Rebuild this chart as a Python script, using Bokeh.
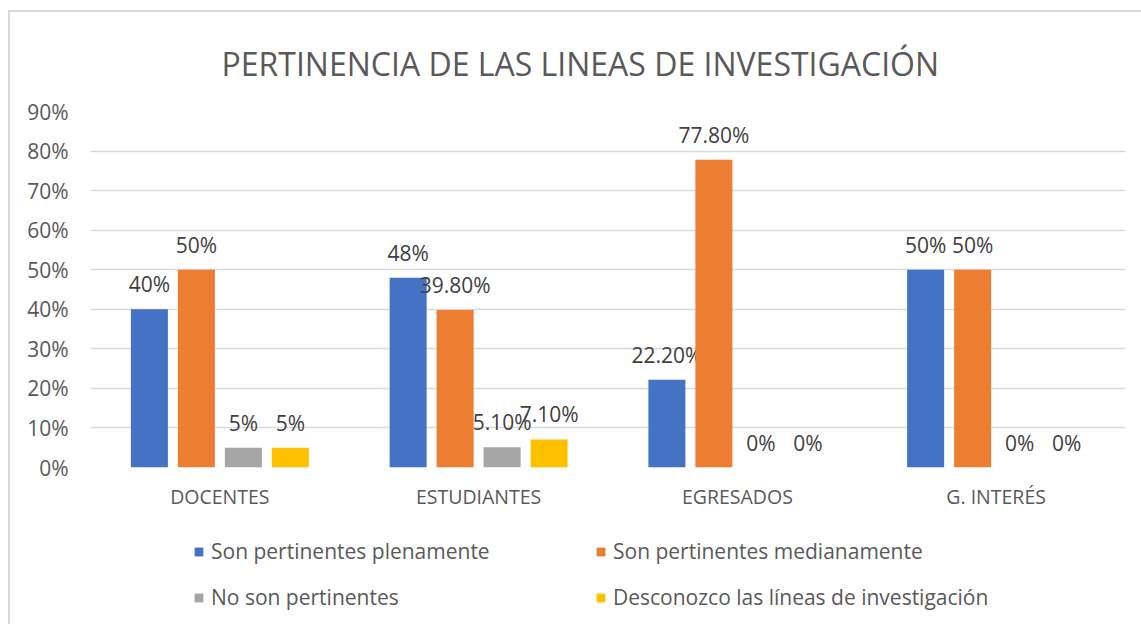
from bokeh.plotting import figure
from bokeh.layouts import column
from bokeh.models import (ColumnDataSource, FactorRange, Range1d, FixedTicker,
                          NumeralTickFormatter, Legend, LegendItem)
from bokeh.transform import dodge
from bokeh.core.properties import value
from bokeh.embed import file_html
from bokeh.resources import INLINE

categories = ["DOCENTES", "ESTUDIANTES", "EGRESADOS", "G. INTERÉS"]
series_names = ["Son pertinentes plenamente", "Son pertinentes medianamente",
                "No son pertinentes", "Desconozco las líneas de investigación"]
plenamente = [0.40, 0.48, 0.222, 0.50]
medianamente = [0.50, 0.398, 0.778, 0.50]
no_pertinentes = [0.05, 0.051, 0.0, 0.0]
desconozco = [0.05, 0.071, 0.0, 0.0]
labels_plenamente = ["40%", "48%", "22.20%", "50%"]
labels_medianamente = ["50%", "39.80%", "77.80%", "50%"]
labels_no = ["5%", "5.10%", "0%", "0%"]
labels_desconozco = ["5%", "7.10%", "0%", "0%"]
y_ticks = [0.0, 0.1, 0.2, 0.3, 0.4, 0.5, 0.6, 0.7, 0.8, 0.9]

colors = ["#4472C4", "#ED7D31", "#A5A5A5", "#FFC000"]
FONT = "Open Sans"

src = ColumnDataSource(dict(cat=categories,
                            s0=plenamente, s1=medianamente, s2=no_pertinentes, s3=desconozco,
                            l0=labels_plenamente, l1=labels_medianamente,
                            l2=labels_no, l3=labels_desconozco))

p = figure(x_range=FactorRange(*categories), y_range=Range1d(0, 0.9),
           width=1131, height=513, output_backend="svg", toolbar_location=None,
           min_border_left=80, min_border_right=16, min_border_top=99, min_border_bottom=58)

step = 0.1816
bw = 0.143
offsets = [-1.5 * step, -0.5 * step, 0.5 * step, 1.5 * step]
for i in range(4):
    p.vbar(x=dodge("cat", offsets[i], range=p.x_range), top="s%d" % i, width=bw,
           source=src, fill_color=colors[i], line_color=None)
    p.text(x=dodge("cat", offsets[i], range=p.x_range), y="s%d" % i, text="l%d" % i,
           source=src, y_offset=-25, text_align="center", text_baseline="alphabetic",
           text_font=value(FONT), text_font_size="21px", text_color="#404040")

p.title.text = "PERTINENCIA DE LAS LINEAS DE INVESTIGACIÓN"
p.title.align = "left"
p.title.offset = 131
p.title.text_font = FONT
p.title.text_font_size = "32px"
p.title.text_font_style = "normal"
p.title.text_color = "#595959"
p.title.standoff = 53

p.outline_line_color = None
p.xgrid.grid_line_color = None
p.ygrid.grid_line_color = "#d9d9d9"
p.ygrid.grid_line_width = 1.5

p.yaxis.ticker = FixedTicker(ticks=y_ticks)
p.yaxis.formatter = NumeralTickFormatter(format="0%")
for ax in (p.xaxis, p.yaxis):
    ax.axis_line_color = None
    ax.major_tick_line_color = None
    ax.minor_tick_line_color = None
    ax.major_tick_out = 0
    ax.major_tick_in = 0
    ax.major_label_text_font = FONT
    ax.major_label_text_color = "#595959"
p.yaxis.major_label_text_font_size = "21px"
p.xaxis.major_label_text_font_size = "19.5px"
p.yaxis.major_label_standoff = 22
p.xaxis.major_label_standoff = 15

# legend strip below the chart; its bars reuse the data but lie below its view
q = figure(width=1131, height=99, output_backend="svg", toolbar_location=None,
           x_range=FactorRange(*categories), y_range=Range1d(1, 2),
           x_axis_location=None, y_axis_location=None, min_border=0)
q.grid.visible = False
q.outline_line_color = None
items = []
for i in range(4):
    r = q.vbar(x="cat", top="s%d" % i, width=bw, source=src,
               fill_color=colors[i], line_color=None)
    items.append(LegendItem(label=series_names[i], renderers=[r]))

legend = Legend(items=[items[0], items[2], items[1], items[3]],
                orientation="vertical", nrows=2,
                glyph_width=11, glyph_height=11, label_standoff=7,
                label_text_font=FONT, label_text_font_size="21px", label_text_color="#595959",
                label_width=366, spacing=18, label_height=20,
                border_line_color=None, background_fill_alpha=0,
                location=(103, 13), padding=0, margin=0)
q.add_layout(legend, "center")

layout = column(p, q, spacing=0, margin=(10, 0, 0, 8),
                styles={"border-top": "2px solid #d9d9d9", "border-left": "2px solid #d9d9d9"})
open("out.html", "w").write(file_html(layout, INLINE))
